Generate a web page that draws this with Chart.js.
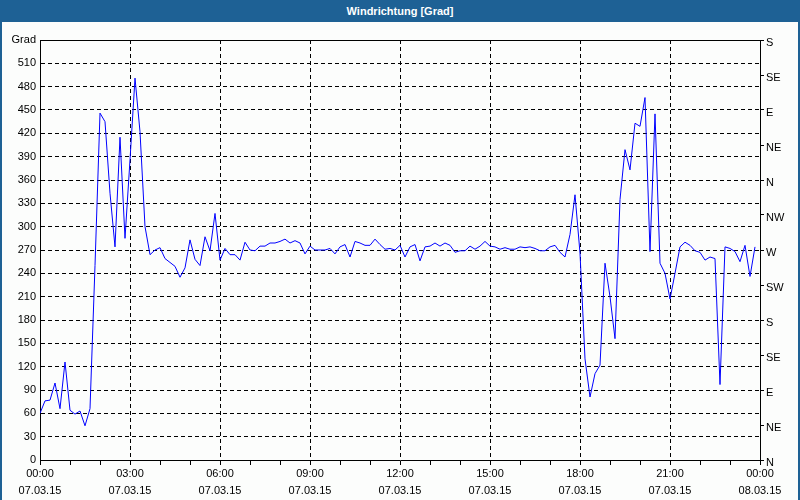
<!DOCTYPE html>
<html>
<head>
<meta charset="utf-8">
<script src="https://cdn.jsdelivr.net/npm/chart.js"></script>
<style>
    html, body { margin: 0; padding: 0; background: #fcfdfc; }
    #frame {
        width: 796px; height: 478px;
        border: 2px solid #1e6195; border-top: none;
        background: #fcfdfc;
    }
    #titlebar {
        width: 800px; height: 22px; background: #1e6195; color: #fff;
        font: bold 11px "Liberation Sans", sans-serif;
        text-align: center; line-height: 22px;
    }
    #wrap { position: relative; width: 796px; height: 476px; }
</style>
</head>
<body>
<div id="titlebar">Windrichtung [Grad]</div>
<div id="frame">
    <div id="wrap"><canvas id="wind-chart"></canvas></div>
</div>
<script>
    // Windrichtung, alle 10 Minuten ab 00:00 (07.03.15)
    var windDir = [
        60, 76, 77, 99, 66, 126, 64, 59, 63, 44, 66, 250,
        446, 435, 343, 274, 415, 285, 386, 491, 422, 300, 264, 270,
        273, 259, 254, 249, 235, 247, 283, 258, 250, 287, 269, 317,
        257, 272, 264, 264, 257, 280, 270, 269, 275, 275, 279, 279,
        281, 284, 279, 282, 279, 265, 275, 270, 270, 270, 272, 265,
        274, 277, 261, 281, 279, 276, 276, 284, 277, 271, 272, 270,
        276, 261, 274, 277, 256, 274, 275, 279, 275, 279, 276, 267,
        269, 269, 275, 271, 275, 281, 275, 274, 271, 273, 271, 271,
        274, 273, 274, 272, 269, 269, 274, 276, 267, 261, 290, 341,
        266, 130, 81, 111, 122, 253, 210, 156, 335, 399, 373, 433,
        429, 466, 268, 445, 253, 240, 207, 240, 274, 280, 276, 269,
        267, 257, 261, 259, 97, 274, 272, 268, 255, 276, 236, 274
    ];
    var timeLabels = ['00:00', '03:00', '06:00', '09:00', '12:00', '15:00', '18:00', '21:00', '00:00'];
    var dateLabels = ['07.03.15', '07.03.15', '07.03.15', '07.03.15', '07.03.15', '07.03.15', '07.03.15', '07.03.15', '08.03.15'];
    var compass = ['N', 'NE', 'E', 'SE', 'S', 'SW', 'W', 'NW', 'N', 'NE', 'E', 'SE', 'S'];

    // Zeitachse in Stunden
    var points = windDir.map(function(v, i) { return { x: i / 6, y: v }; });

    var font = { family: '"Liberation Sans", sans-serif', size: 11 };

    // Rahmen oben um den Plotbereich
    var framePlugin = {
        id: 'frame',
        afterDraw: function(chart) {
            var a = chart.chartArea, c = chart.ctx;
            c.save();
            c.strokeStyle = '#000';
            c.lineWidth = 1;
            c.beginPath();
            c.moveTo(a.left, a.top + 0.5);
            c.lineTo(a.right, a.top + 0.5);
            c.stroke();
            c.restore();
        }
    };

    var ctx = document.getElementById('wind-chart').getContext('2d');
    var myChart = new Chart(ctx, {
        type: 'line',
        data: {
            datasets: [{
                data: points,
                borderColor: '#0000ff',
                borderWidth: 1,
                pointRadius: 0,
                tension: 0,
                yAxisID: 'y'
            }]
        },
        options: {
            responsive: true,
            maintainAspectRatio: false,
            animation: false,
            layout: { padding: { top: 18, left: 0, right: 0, bottom: 0 } },
            plugins: { legend: { display: false }, tooltip: { enabled: false } },
            scales: {
                x: {
                    type: 'linear', min: 0, max: 24,
                    afterFit: function(s) { s.height = 38; },
                    ticks: {
                        stepSize: 1, autoSkip: false, maxRotation: 0, color: '#000',
                        font: { family: font.family, size: 11, lineHeight: 1.55 }, padding: 0,
                        callback: function(v) {
                            if (v % 3 !== 0) return '';
                            return [timeLabels[v / 3], dateLabels[v / 3]];
                        }
                    },
                    grid: {
                        color: function(c) {
                            var v = c.tick.value;
                            return (v % 3 === 0 && v > 0 && v < 24) ? '#000' : 'rgba(0,0,0,0)';
                        },
                        tickColor: '#000', tickLength: 5, tickWidth: 1
                    },
                    border: { color: '#000', dash: [4, 3] }
                },
                y: {
                    position: 'left', min: 0, max: 540,
                    afterFit: function(s) { s.width = 38; },
                    ticks: {
                        stepSize: 30, color: '#000', font: font, padding: 4,
                        callback: function(v) { return v === 540 ? 'Grad' : v; }
                    },
                    grid: {
                        drawTicks: false,
                        color: function(c) {
                            var v = c.tick.value;
                            return (v > 0 && v < 540) ? '#000' : 'rgba(0,0,0,0)';
                        }
                    },
                    border: { color: '#000', dash: [4, 3] }
                },
                y2: {
                    position: 'right', min: 0, max: 540,
                    afterFit: function(s) { s.width = 38; },
                    ticks: {
                        stepSize: 45, color: '#000', font: font, padding: 2, labelOffset: 3,
                        callback: function(v) { return compass[v / 45]; }
                    },
                    grid: { drawOnChartArea: false, color: '#000', tickLength: 4 },
                    border: { color: '#000' }
                }
            }
        },
        plugins: [framePlugin]
    });
</script>
</body>
</html>
